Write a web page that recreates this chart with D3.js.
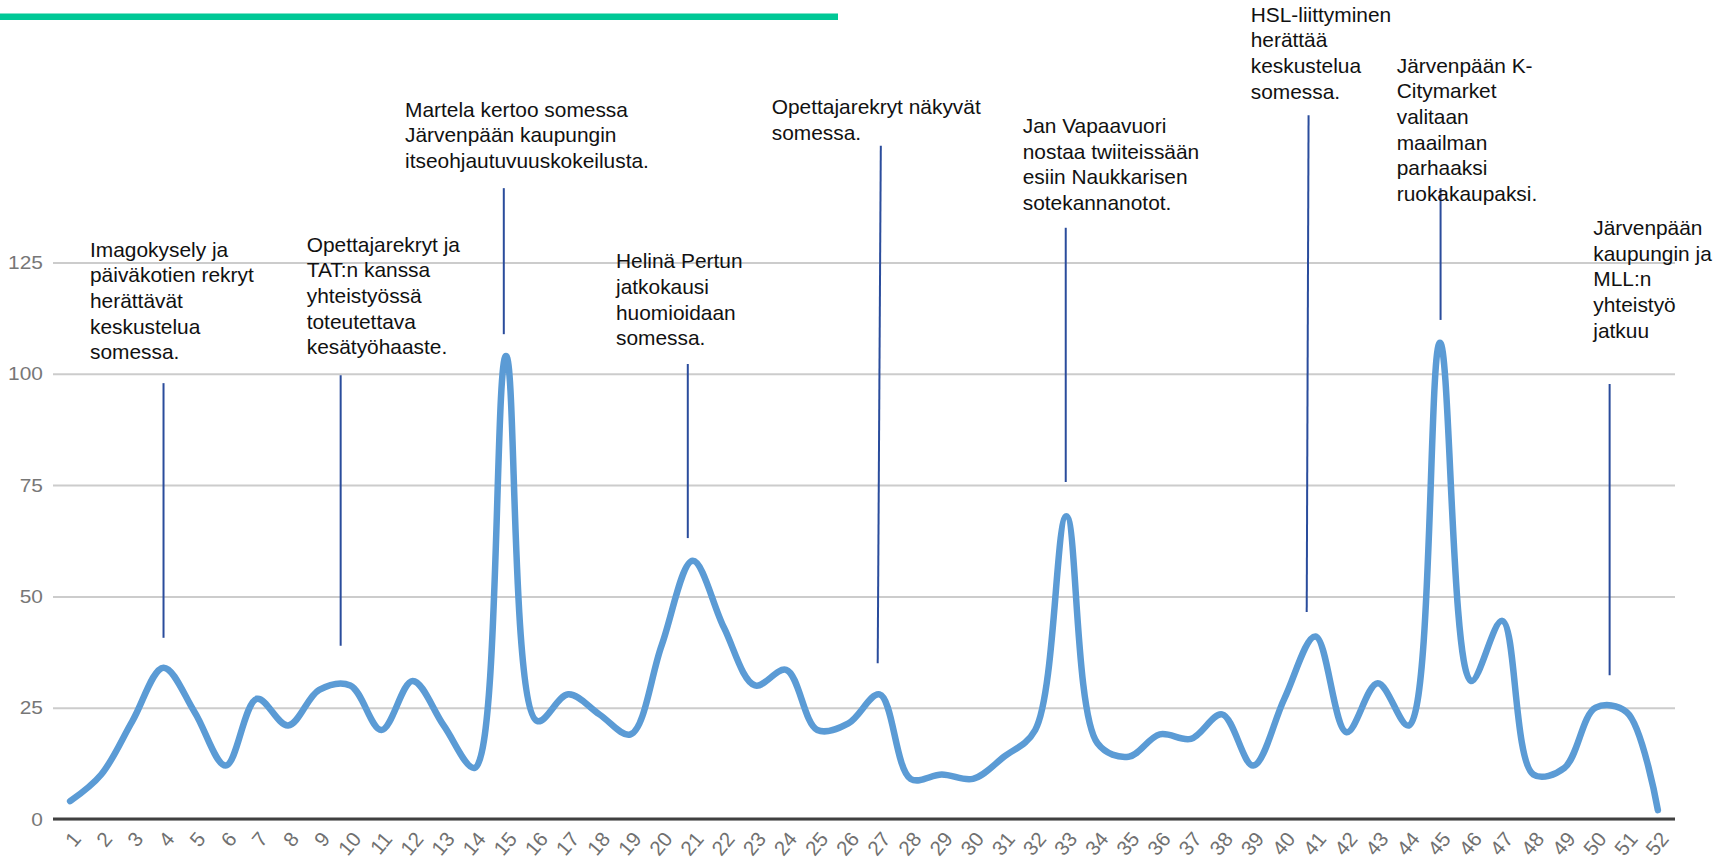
<!DOCTYPE html>
<html lang="fi">
<head>
<meta charset="utf-8">
<title>Somekeskustelu viikoittain</title>
<script src="https://cdn.jsdelivr.net/npm/d3@7"></script>
<style>
  html, body { margin: 0; padding: 0; background: #fff; }
  svg { display: block; }
  .x-axis text { font-size: 20.5px; fill: #707070; }
  .y-axis text { font-size: 19px; fill: #777777; }
</style>
</head>
<body>
<div id="chart"></div>
<script>
// Weekly mention counts, weeks 1..52
const weeks = d3.range(1, 53);
const mentions = [
  4, 10, 22, 34, 24, 12, 27, 21, 29, 30,
  20, 31, 21, 11.5, 104, 22, 28, 23.5, 19, 39,
  58, 43, 30, 33.5, 20, 21.5, 28, 9, 10, 9,
  14, 20, 68, 17, 14, 19, 18, 23.5, 12, 27,
  41, 19.5, 30.5, 21, 107, 31, 44.5, 10, 11.5, 25,
  24, 2
];
const yTicks = [0, 25, 50, 75, 100, 125];

// Event callouts (text lines) and the weeks their leader lines point at
const eventTexts = [
  ['Imagokysely ja', 'päiväkotien rekryt', 'herättävät', 'keskustelua', 'somessa.'],
  ['Opettajarekryt ja', 'TAT:n kanssa', 'yhteistyössä', 'toteutettava', 'kesätyöhaaste.'],
  ['Martela kertoo somessa', 'Järvenpään kaupungin', 'itseohjautuvuuskokeilusta.'],
  ['Helinä Pertun', 'jatkokausi', 'huomioidaan', 'somessa.'],
  ['Opettajarekryt näkyvät', 'somessa.'],
  ['Jan Vapaavuori', 'nostaa twiiteissään', 'esiin Naukkarisen', 'sotekannanotot.'],
  ['HSL-liittyminen', 'herättää', 'keskustelua', 'somessa.'],
  ['Järvenpään K-', 'Citymarket', 'valitaan', 'maailman', 'parhaaksi', 'ruokakaupaksi.'],
  ['Järvenpään', 'kaupungin ja', 'MLL:n', 'yhteistyö', 'jatkuu']
];
const eventWeeksTop = [4, 9.69, 14.93, 20.84, 27.04, 32.98, 40.78, 45.02, 50.45];
const eventWeeksBottom = [4, 9.69, 14.93, 20.84, 26.94, 32.98, 40.72, 45.02, 50.45];

// Layout of the callouts (leader line ends in value units, text origin in px)
const eventLineTop = [97.9, 99.7, 141.7, 102.2, 151.2, 132.8, 158.1, 141.7, 97.7];
const eventLineBottom = [40.7, 38.9, 108.9, 63.1, 35.0, 75.7, 46.5, 112.1, 32.3];
const eventTextPos = [
  [90, 256.7], [306.7, 251.7], [405, 116.7], [616, 268.3], [771.7, 114],
  [1022.7, 133], [1250.7, 21.7], [1396.7, 72.7], [1593.3, 235]
];

const width = 1729;
const height = 859;
const plot = { left: 53, right: 1675, top: 262.5, bottom: 819 };
const font = 'Arial, "Liberation Sans", Helvetica, sans-serif';

const svg = d3.select('#chart')
  .append('svg')
  .attr('width', width)
  .attr('height', height)
  .style('font-family', font);

// Green accent bar at the top
svg.append('rect')
  .attr('x', 0)
  .attr('y', 13.5)
  .attr('width', 838)
  .attr('height', 6.5)
  .attr('fill', '#00c896');

const pad = 0.55;
const x = d3.scaleLinear()
  .domain([1 - pad, 52 + pad])
  .range([plot.left, plot.right]);

const y = d3.scaleLinear()
  .domain([0, 125])
  .range([plot.bottom, plot.top]);

// Y axis with gridlines
const yAxis = svg.append('g')
  .attr('class', 'y-axis')
  .attr('transform', `translate(${plot.left},0)`)
  .call(d3.axisLeft(y)
    .tickValues(yTicks)
    .tickSize(-(plot.right - plot.left))
    .tickPadding(0));

yAxis.attr('font-size', 19).attr('font-family', font);
yAxis.select('.domain').remove();
yAxis.selectAll('line')
  .attr('stroke', '#cccccc')
  .attr('stroke-width', 2);
yAxis.selectAll('text')
  .attr('x', 0)
  .attr('transform', 'translate(-10,0) scale(1.1,1)');

// Baseline
svg.append('line')
  .attr('x1', plot.left)
  .attr('x2', plot.right)
  .attr('y1', y(0))
  .attr('y2', y(0))
  .attr('stroke', '#404040')
  .attr('stroke-width', 3);

// X axis (week numbers, rotated)
const xAxis = svg.append('g')
  .attr('class', 'x-axis')
  .attr('transform', `translate(0,${plot.bottom})`)
  .call(d3.axisBottom(x)
    .tickValues(weeks)
    .tickSize(0)
    .tickFormat(d3.format('d')));

xAxis.attr('font-size', 20.5).attr('font-family', font);
xAxis.select('.domain').remove();
xAxis.selectAll('.tick text')
  .attr('x', 0)
  .attr('y', 0)
  .attr('dy', '0.35em')
  .attr('text-anchor', 'end')
  .attr('transform', 'translate(6,16) rotate(-50)');

// Leader lines
svg.append('g')
  .selectAll('line')
  .data(eventTexts)
  .join('line')
  .attr('x1', (d, i) => x(eventWeeksTop[i]))
  .attr('x2', (d, i) => x(eventWeeksBottom[i]))
  .attr('y1', (d, i) => y(eventLineTop[i]))
  .attr('y2', (d, i) => y(eventLineBottom[i]))
  .attr('stroke', '#2a4c9c')
  .attr('stroke-width', 2);

// Mentions line
const line = d3.line()
  .x((d, i) => x(weeks[i]))
  .y(d => y(d))
  .curve(d3.curveCatmullRom.alpha(0.5));

svg.append('path')
  .datum(mentions)
  .attr('d', line)
  .attr('fill', 'none')
  .attr('stroke', '#5b9bd5')
  .attr('stroke-width', 6.5)
  .attr('stroke-linejoin', 'round')
  .attr('stroke-linecap', 'round');

// Callout texts
const lineHeight = 25.7;
const notes = svg.append('g')
  .attr('font-size', 20.5)
  .attr('fill', '#111111')
  .selectAll('g')
  .data(eventTexts)
  .join('g')
  .attr('transform', (d, i) => `translate(${eventTextPos[i][0]},${eventTextPos[i][1]}) scale(1.02,1)`);

notes.selectAll('text')
  .data(d => d)
  .join('text')
  .attr('x', 0)
  .attr('y', (d, i) => i * lineHeight)
  .text(d => d);
</script>
</body>
</html>
